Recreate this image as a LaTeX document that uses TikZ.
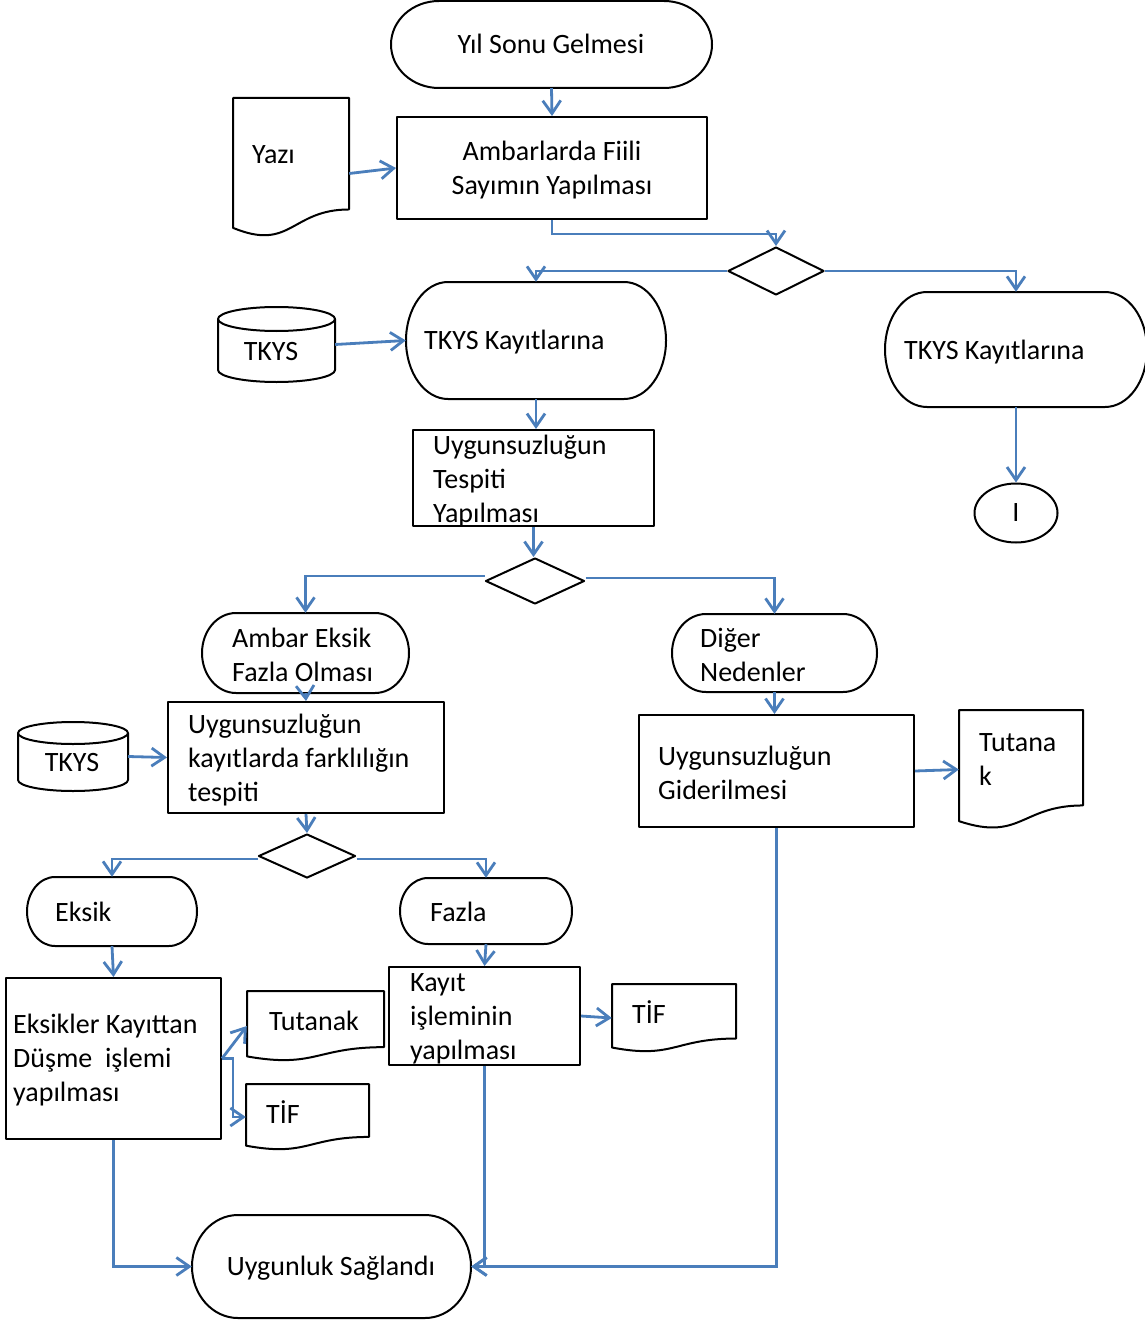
\documentclass[tikz,border=0pt]{standalone}
\usepackage{fontspec}
\setmainfont{Carlito}
\usetikzlibrary{arrows.meta,shapes.geometric}
\definecolor{lnblue}{RGB}{74,126,187}
\tikzset{
  shp/.style={draw=black,line width=2pt,line join=round},
  boxnode/.style={shp,inner sep=0pt},
  lbl/.style={inner sep=0pt,font=\fontsize{28}{34}\selectfont,align=left},
  conn/.style={draw=lnblue,line width=2.8pt,-{Straight Barb[length=13pt,width=18pt]}},
  dia/.style={shp,diamond,inner sep=0pt}
}
\newcommand\docsh[5]{%
  \pgfmathsetmacro\dw{#4-#2}\pgfmathsetmacro\dh{#5-#3}\pgfmathsetmacro\dm{(#2+#4)/2}%
  \draw[shp] (#2,#3) -- (#4,#3) -- (#4,{#3+0.802*\dh}) .. controls (\dm,{#3+0.802*\dh}) and (\dm,{#3+1.1075*\dh}) .. (#2,{#3+0.934*\dh}) -- cycle;
  \node[inner sep=0pt,minimum width=\dw pt,minimum height=\dh pt] (#1) at (\dm,{(#3+#5)/2}) {};
}
\newcommand\termsh[6]{%
  \pgfmathsetmacro\ry{(#5-#3)/2}\pgfmathsetmacro\tw{#4-#2}\pgfmathsetmacro\th{#5-#3}%
  \draw[shp] ({#2+#6},#3) -- ({#4-#6},#3) arc[start angle=90,end angle=-90,x radius=#6pt,y radius=\ry pt] -- ({#2+#6},#5) arc[start angle=270,end angle=90,x radius=#6pt,y radius=\ry pt] -- cycle;
  \node[inner sep=0pt,minimum width=\tw pt,minimum height=\th pt] (#1) at ({(#2+#4)/2},{(#3+#5)/2}) {};
}
\newcommand\cylsh[6]{%
  \pgfmathsetmacro\rx{(#4-#2)/2}\pgfmathsetmacro\cx{(#2+#4)/2}\pgfmathsetmacro\tw{#4-#2}\pgfmathsetmacro\th{#5-#3}%
  \draw[shp] (#2,{#3+#6}) -- (#2,{#5-#6}) arc[start angle=180,end angle=360,x radius=\rx pt,y radius=#6pt] -- (#4,{#3+#6});
  \draw[shp] (\cx,{#3+#6}) ellipse[x radius=\rx pt,y radius=#6pt];
  \node[inner sep=0pt,minimum width=\tw pt,minimum height=\th pt] (#1) at (\cx,{(#3+#5)/2}) {};
}
\begin{document}
\begin{tikzpicture}[x=1pt,y=-1pt]
\fill[white] (0,0) rectangle (1144,1324);
\useasboundingbox (0,0) rectangle (1144,1324);

% ---------- top ----------
\termsh{yil}{391}{1}{712}{88}{48}
\node[lbl] (yil-t) at (551,44) {Yıl Sonu Gelmesi};
\node[boxnode,minimum width=310pt,minimum height=102pt] (ambar) at (552,168) {};
\node[lbl,align=center] (ambar-t) at (552,170) {Ambarlarda Fiili\\Sayımın Yapılması};
\docsh{yazi}{233}{98}{349}{237}
\node[lbl,anchor=west] (yazi-t) at (252,155) {Yazı};
\node[dia,minimum width=96pt,minimum height=48pt] (d1) at (776,271) {};

\termsh{tk1}{406}{282}{666}{399}{42}
\node[lbl,anchor=west] (tk1-t) at (424,342) {TKYS Kayıtlarına};
\cylsh{cyl1}{218}{307}{335}{382}{12}
\node[lbl] (cyl1-t) at (271,352) {TKYS};
\termsh{tk2}{885}{292}{1147}{407}{42}
\node[lbl,anchor=west] (tk2-t) at (904,352) {TKYS Kayıtlarına};
\node[shp,ellipse,inner sep=0pt,minimum width=83pt,minimum height=59pt] (circ) at (1016,513) {};
\node[lbl] (circ-t) at (1016,513) {I};

\node[boxnode,minimum width=241pt,minimum height=96pt] (tesp) at (533.5,478) {};
\node[lbl,anchor=west] (tesp-t) at (433,481) {Uygunsuzluğun\\Tespiti\\Yapılması};
\node[dia,minimum width=99pt,minimum height=46pt] (d2) at (535,581) {};

% ---------- middle ----------
\termsh{aef}{202}{613}{409}{693}{34}
\node[lbl,anchor=west] (aef-t) at (232,655) {Ambar Eksik\\Fazla Olması};
\termsh{diger}{672}{614}{877}{692}{34}
\node[lbl,anchor=west] (diger-t) at (700,655) {Diğer\\Nedenler};
\node[boxnode,minimum width=276pt,minimum height=111pt] (kf) at (306,757.5) {};
\node[lbl,anchor=west] (kf-t) at (188,760) {Uygunsuzluğun\\kayıtlarda farklılığın\\tespiti};
\cylsh{cyl2}{18}{722}{128}{791}{11}
\node[lbl] (cyl2-t) at (72,763) {TKYS};
\node[boxnode,minimum width=275pt,minimum height=112pt] (gider) at (776.5,771) {};
\node[lbl,anchor=west] (gider-t) at (658,773) {Uygunsuzluğun\\Giderilmesi};
\docsh{tut1}{959}{710}{1083}{829}
\node[lbl,anchor=west] (tut1-t) at (979,760) {Tutana\\k};
\node[dia,minimum width=97pt,minimum height=44pt] (d3) at (307,856) {};

% ---------- bottom ----------
\termsh{eksik}{27}{877}{197}{946}{28}
\node[lbl,anchor=west] (eksik-t) at (55,912) {Eksik};
\termsh{fazla}{400}{878}{572}{944}{28}
\node[lbl,anchor=west] (fazla-t) at (430,912) {Fazla};
\node[boxnode,minimum width=215pt,minimum height=161pt] (eksr) at (113.5,1058.5) {};
\node[lbl,anchor=west] (eksr-t) at (13,1060) {Eksikler Kayıttan\\Düşme\ \ işlemi\\yapılması};
\node[boxnode,minimum width=191pt,minimum height=98pt] (kayr) at (484.5,1016) {};
\node[lbl,anchor=west] (kayr-t) at (410,1019) {Kayıt\\işleminin\\yapılması};
\docsh{tut2}{247}{991}{384}{1061}
\node[lbl] (tut2-t) at (314,1021) {Tutanak};
\docsh{tif1}{246}{1084}{369}{1150}
\node[lbl,anchor=west] (tif1-t) at (266,1112) {TİF};
\docsh{tif2}{612}{984}{736}{1052}
\node[lbl,anchor=west] (tif2-t) at (632,1012) {TİF};
\termsh{uyg}{192}{1215}{471}{1318}{46}
\node[lbl] (uyg-t) at (331,1268) {Uygunluk Sağlandı};

% ---------- connectors ----------
\draw[conn] (yil.south) -- (ambar.north);
\draw[conn] ([yshift=-6pt]yazi.east) -- (ambar.west);
\draw[conn] (ambar.south) -- ++(0,14) -| (d1.north);
\draw[conn] (d1.west) -| (tk1.north);
\draw[conn] (d1.east) -| (tk2.north);
\draw[conn] (cyl1.east) -- (tk1.west);
\draw[conn] (tk2.south) -- (circ.north);
\draw[conn] (tk1.south) -- (tk1.south |- tesp.north);
\draw[conn] (tesp.south) -- (tesp.south |- d2.north);
\draw[conn] ([yshift=5pt]d2.west) -| (aef.north);
\draw[conn] ([yshift=3pt]d2.east) -| (diger.north);
\draw[conn] (aef.south) -- (kf.north);
\draw[conn] (cyl2.east) -- (kf.west);
\draw[conn] (diger.south) -- (diger.south |- gider.north);
\draw[conn] (gider.east) -- (tut1.west);
\draw[conn] (kf.south) -- (d3.north);
\draw[conn] ([yshift=-3pt]d3.west) -| (eksik.north);
\draw[conn] ([yshift=-3pt]d3.east) -| (fazla.north);
\draw[conn] (eksik.south) -- (eksr.north);
\draw[conn] (fazla.south) -- (kayr.north);
\draw[conn] (kayr.east) -- (tif2.west);
\draw[conn] (eksr.east) -- (tut2.west);
\draw[conn] (eksr.east) -- ++(11,0) |- (tif1.west);
\draw[conn] (eksr.south) |- (uyg.west);
\draw[conn] (gider.south) |- (uyg.east);
\draw[conn] (kayr.south) |- (uyg.east);
\end{tikzpicture}
\end{document}
